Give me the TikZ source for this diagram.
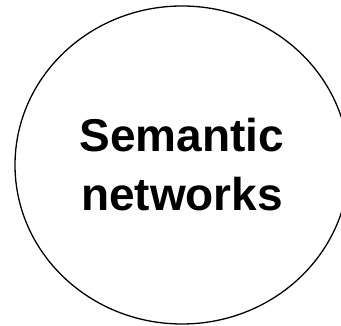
\documentclass[tikz,border=0pt]{standalone}
\usepackage{fontspec}
\setmainfont{Liberation Sans}
\usetikzlibrary{shapes.geometric}
\tikzset{
  topic/.style={ellipse, draw=black, line width=1.3pt, inner sep=0pt,
    minimum width=334pt, minimum height=318pt, align=center,
    font=\bfseries\fontsize{46}{59}\selectfont}
}
\begin{document}
\begin{tikzpicture}[x=1pt,y=1pt]
\useasboundingbox (0,0) rectangle (341,326);
\clip (0,0) rectangle (341,326);
\node[topic] (sn) at (182,161) {Semantic\\networks};
\end{tikzpicture}
\end{document}
